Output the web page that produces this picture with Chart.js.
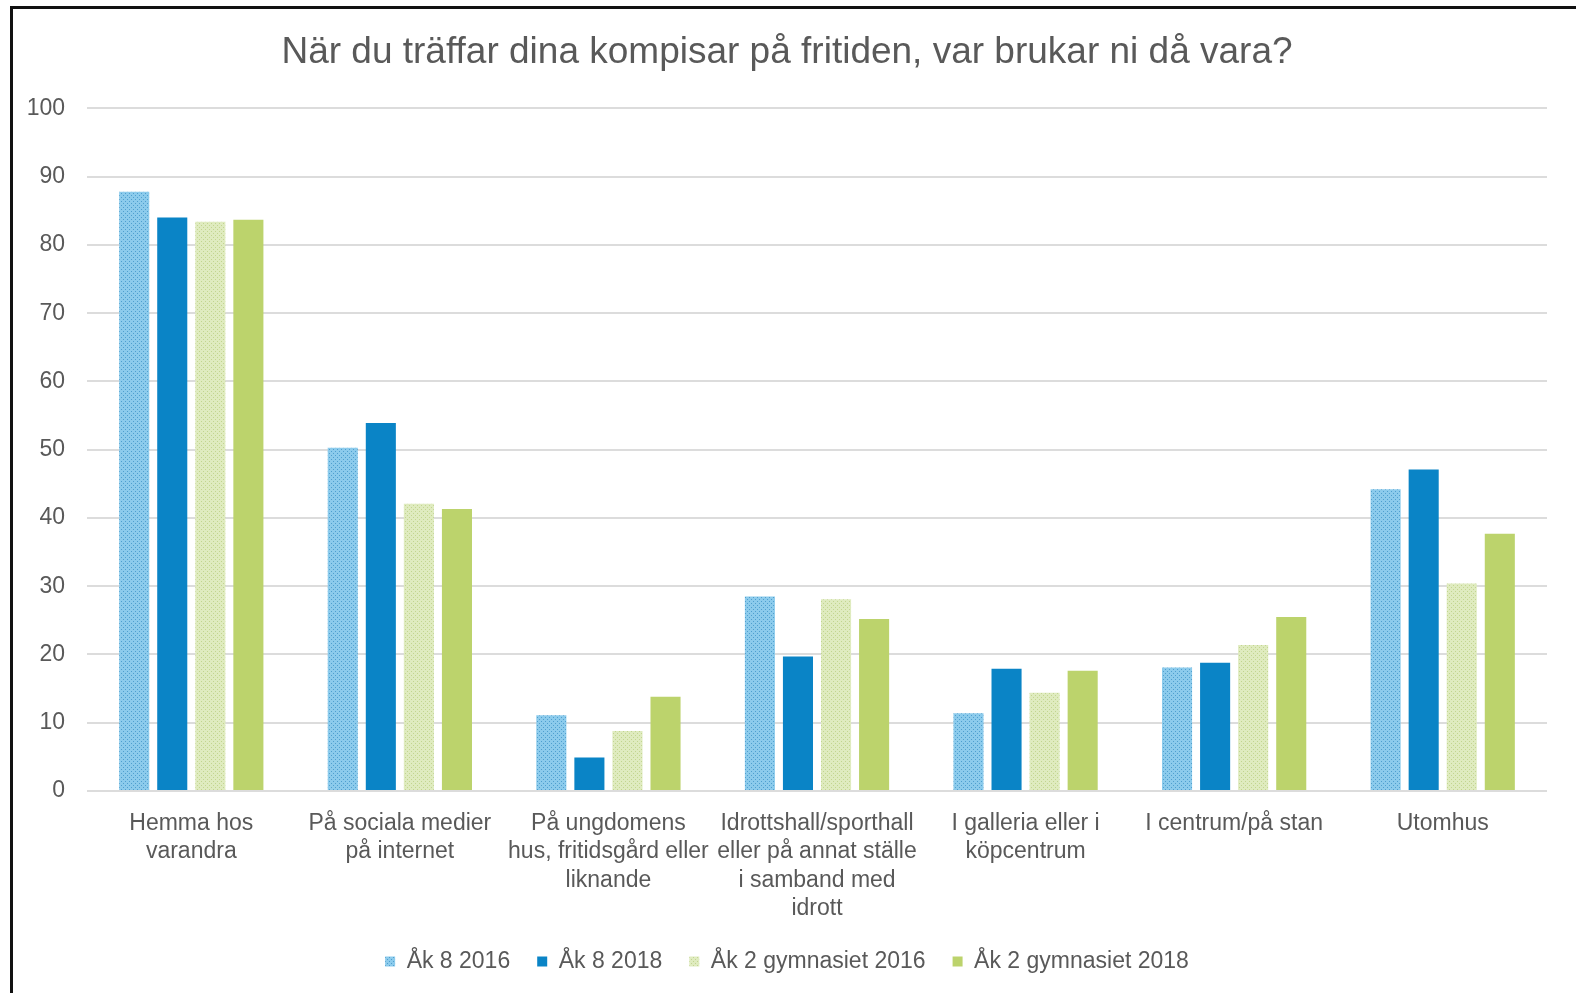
<!DOCTYPE html>
<html>
<head>
<meta charset="utf-8">
<script src="https://cdn.jsdelivr.net/npm/chart.js@4.4.1/dist/chart.umd.min.js"></script>
<style>
  html, body { margin: 0; padding: 0; background: #fff; overflow: hidden; }
  body { width: 1576px; height: 993px; position: relative; }
  #frame {
    position: absolute; left: 10px; top: 6px; width: 1580px; height: 1000px;
    border-left: 3px solid #111; border-top: 3px solid #111;
  }
  #wrap { position: absolute; left: 13px; top: 9px; width: 1563px; height: 984px; }
</style>
</head>
<body>
<div id="frame"></div>
<div id="wrap"><canvas id="chart"></canvas></div>
<script>
const categories = [
  ['Hemma hos', 'varandra'],
  ['På sociala medier', 'på internet'],
  ['På ungdomens', 'hus, fritidsgård eller', 'liknande'],
  ['Idrottshall/sporthall', 'eller på annat ställe', 'i samband med', 'idrott'],
  ['I galleria eller i', 'köpcentrum'],
  ['I centrum/på stan'],
  ['Utomhus']
];
const seriesNames = ['Åk 8 2016', 'Åk 8 2018', 'Åk 2 gymnasiet 2016', 'Åk 2 gymnasiet 2018'];
const ak8_2016 = [87.8, 50.3, 11.1, 28.5, 11.4, 18.1, 44.2];
const ak8_2018 = [84.0, 53.9, 4.9, 19.7, 17.9, 18.8, 47.1];
const gy2_2016 = [83.4, 42.1, 8.8, 28.1, 14.4, 21.4, 30.4];
const gy2_2018 = [83.7, 41.3, 13.8, 25.2, 17.6, 25.5, 37.7];
const yTicks = [0, 10, 20, 30, 40, 50, 60, 70, 80, 90, 100];

const textColor = '#595959';
const fontFamily = '"Liberation Sans", Arial, sans-serif';

// dotted fill like the office "small grid" pattern
function dotPattern(base, dot) {
  const c = document.createElement('canvas');
  c.width = 4; c.height = 4;
  const g = c.getContext('2d');
  g.fillStyle = base;
  g.fillRect(0, 0, 4, 4);
  g.fillStyle = dot;
  g.fillRect(0, 0, 1, 1);
  g.fillRect(2, 2, 1, 1);
  return g.createPattern(c, 'repeat');
}

const ctx = document.getElementById('chart').getContext('2d');
const fills = [
  dotPattern('#8ccbec', '#4f9fcf'),
  '#0a84c6',
  dotPattern('#dfebbf', '#c2d58f'),
  '#bcd36c'
];
const values = [ak8_2016, ak8_2018, gy2_2016, gy2_2018];

new Chart(ctx, {
  type: 'bar',
  data: {
    labels: categories,
    datasets: seriesNames.map((name, i) => ({
      label: name,
      data: values[i],
      backgroundColor: fills[i],
      borderWidth: 0,
      categoryPercentage: 0.73,
      barPercentage: 0.79
    }))
  },
  options: {
    responsive: true,
    maintainAspectRatio: false,
    animation: false,
    layout: { padding: { left: 14, right: 29, top: 0, bottom: 10 } },
    plugins: {
      title: {
        display: true,
        text: 'När du träffar dina kompisar på fritiden, var brukar ni då vara?',
        color: textColor,
        font: { family: fontFamily, size: 37, weight: 'normal', lineHeight: 1.2 },
        padding: { top: 22, bottom: 33 }
      },
      legend: {
        position: 'bottom',
        labels: {
          color: textColor,
          font: { family: fontFamily, size: 23 },
          boxWidth: 10,
          boxHeight: 10,
          padding: 27
        }
      },
      tooltip: { enabled: false }
    },
    scales: {
      x: {
        grid: { display: false },
        border: { display: false },
        ticks: {
          color: textColor,
          font: { family: fontFamily, size: 23, lineHeight: 1.24 },
          autoSkip: false,
          maxRotation: 0,
          minRotation: 0,
          padding: 10
        },
        afterFit: (scale) => { scale.height = 132; }
      },
      y: {
        min: 0,
        max: 100,
        afterBuildTicks: (scale) => { scale.ticks = yTicks.map(v => ({ value: v })); },
        grid: { color: '#dcdcdc', lineWidth: 2, drawTicks: false },
        border: { display: false },
        ticks: {
          color: textColor,
          font: { family: fontFamily, size: 23 },
          padding: 22
        },
        afterFit: (scale) => { scale.width = 60; }
      }
    }
  }
});
</script>
</body>
</html>
